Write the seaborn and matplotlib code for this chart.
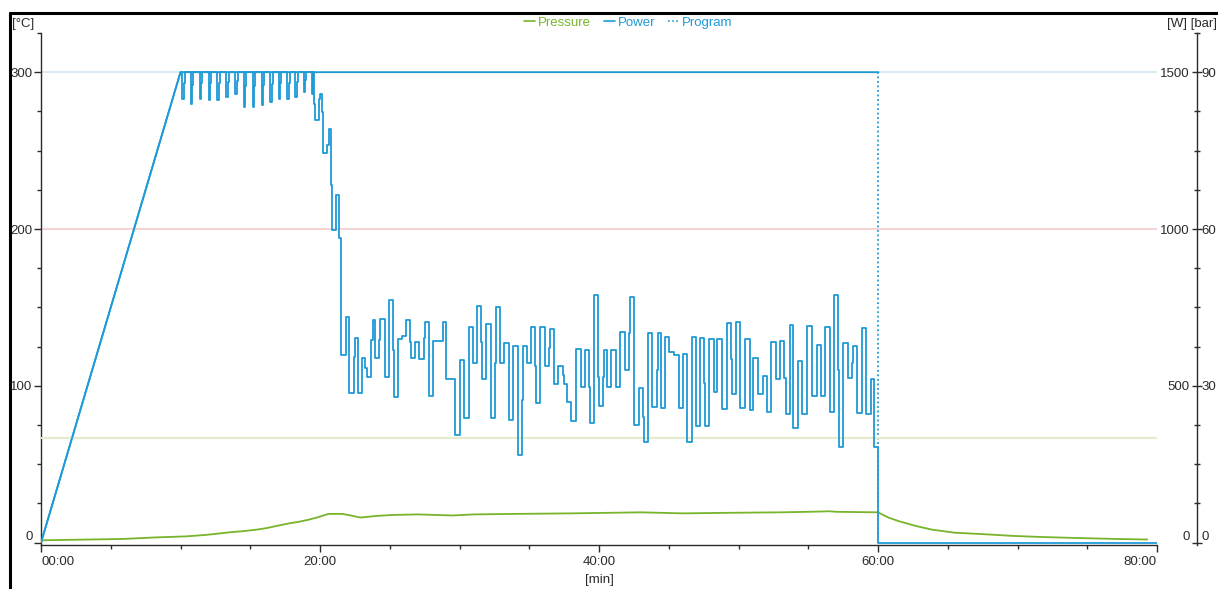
import matplotlib
matplotlib.use("Agg")
import matplotlib.pyplot as plt
from matplotlib.lines import Line2D
from matplotlib.ticker import MultipleLocator, FixedLocator, FuncFormatter
import seaborn as sns

sns.set_theme(style="white")
plt.rcParams['font.family'] = ['Liberation Sans', 'DejaVu Sans']
plt.rcParams['font.size'] = 9.5

# power ramp at the start [min], [W]
ramp_t = [0.0, 10.0]
ramp_w = [0, 1500]

# power, step values after the ramp [min], [W]
power_t = [10.00,
           10.12, 10.22, 10.30, 10.72, 10.82, 10.90, 11.39, 11.49, 11.57,
           12.03, 12.13, 12.21, 12.63, 12.73, 12.81, 13.28, 13.38, 13.46,
           13.94, 14.04, 14.12, 14.54, 14.64, 14.72, 15.19, 15.29, 15.37,
           15.81, 15.91, 15.99, 16.45, 16.55, 16.63, 17.05, 17.15, 17.23,
           17.65, 17.75, 17.83, 18.24, 18.34, 18.42, 18.84, 18.94, 19.02,
           19.44, 19.50,
           19.56, 19.63, 19.91, 19.98, 20.15, 20.20, 20.51, 20.63, 20.80, 20.87, 21.18,
           21.35, 21.47, 21.54, 21.87, 22.06, 22.42, 22.49, 22.73, 23.02, 23.26, 23.38,
           23.69, 23.78, 23.97, 24.26, 24.33, 24.64, 24.93, 25.24, 25.33, 25.60, 25.88,
           26.17, 26.48, 26.55, 26.84, 27.12, 27.44, 27.51, 27.79, 28.10, 28.80, 29.06,
           29.70, 30.06, 30.35, 30.71, 30.99, 31.28, 31.57, 31.61, 31.92, 32.23, 32.57,
           32.62, 32.93, 33.21, 33.57, 33.86, 34.17, 34.48, 34.53, 34.84, 35.12, 35.43,
           35.48, 35.79, 36.10, 36.39, 36.51, 36.77, 37.06, 37.39, 37.46, 37.70, 38.01,
           38.37, 38.68, 38.97, 39.30, 39.37, 39.66, 39.92, 39.97, 40.26, 40.33, 40.59,
           40.88, 41.21, 41.52, 41.83, 42.17, 42.24, 42.52, 42.84, 43.12, 43.19, 43.50,
           43.79, 44.15, 44.20, 44.46, 44.75, 45.03, 45.41, 45.70, 45.99, 46.30, 46.66,
           46.94, 47.25, 47.56, 47.61, 47.90, 48.21, 48.49, 48.85, 49.16, 49.47, 49.52,
           49.83, 50.14, 50.48, 50.79, 51.07, 51.38, 51.74, 52.03, 52.34, 52.70, 52.98,
           53.29, 53.39, 53.70, 53.94, 54.25, 54.58, 54.94, 55.25, 55.30, 55.61, 55.90,
           56.21, 56.56, 56.88, 57.11, 57.21, 57.52, 57.83, 58.16, 58.24, 58.52, 58.83,
           59.12, 59.48, 59.74, 60.03, 80.00]
power_w = [1500,
           1416, 1466, 1500, 1400, 1460, 1500, 1416, 1466, 1500,
           1411, 1464, 1500, 1411, 1464, 1500, 1422, 1469, 1500,
           1432, 1473, 1500, 1390, 1456, 1500, 1390, 1456, 1500,
           1395, 1458, 1500, 1406, 1462, 1500, 1416, 1466, 1500,
           1416, 1466, 1500, 1422, 1469, 1500, 1438, 1475, 1500,
           1432, 1500,
           1400, 1347, 1416, 1432, 1374, 1241, 1268, 1318, 1140, 997, 1108,
           970, 716, 599, 718, 477, 593, 654, 477, 590, 558, 527,
           647, 710, 590, 647, 713, 527, 774, 615, 463, 650, 659,
           710, 641, 588, 641, 586, 652, 705, 466, 644, 705, 521,
           344, 583, 399, 686, 572, 755, 641, 522, 696, 399, 572,
           751, 574, 638, 392, 627, 278, 455, 627, 572, 687, 564,
           445, 687, 564, 620, 682, 506, 564, 535, 505, 450, 389,
           618, 495, 615, 496, 381, 789, 528, 436, 528, 615, 496,
           615, 496, 671, 551, 668, 782, 376, 492, 402, 320, 668,
           431, 551, 668, 429, 657, 607, 597, 429, 602, 320, 657,
           373, 652, 508, 371, 649, 479, 649, 426, 700, 586, 475,
           703, 429, 649, 424, 588, 475, 530, 418, 641, 522, 644,
           525, 410, 694, 365, 580, 410, 692, 583, 469, 631, 466,
           686, 415, 790, 551, 304, 638, 524, 572, 627, 413, 684,
           410, 521, 304, 0, 0]

# pressure [min], [bar]
pressure_t = [0.0, 5.8, 8.2, 10.4, 11.9, 13.6, 14.5, 15.5, 16.2, 16.9, 17.8, 18.5, 19.2,
              19.9, 20.6, 21.6, 22.2, 22.9, 24.0, 25.2, 27.0, 29.5, 31.0, 34.0, 38.0,
              43.0, 46.0, 49.0, 53.0, 55.0, 56.5, 57.0, 60.0, 60.75, 61.5, 62.7, 63.85,
              65.5, 67.7, 69.6, 71.5, 74.1, 77.2, 79.3]
pressure_bar = [0.45, 0.7, 1.0, 1.2, 1.5, 2.0, 2.2, 2.5, 2.8, 3.2, 3.7, 4.0, 4.4,
                4.9, 5.5, 5.5, 5.2, 4.8, 5.1, 5.3, 5.4, 5.2, 5.4, 5.5, 5.6,
                5.8, 5.6, 5.7, 5.8, 5.9, 6.0, 5.9, 5.8, 4.8, 4.1, 3.2, 2.5,
                1.9, 1.6, 1.3, 1.1, 0.9, 0.7, 0.6]

# temperature program [min], [°C]
program_t = [0.0, 10.0, 60.03]
program_c = [0, 300, 300]
program_end_t = [60.03, 60.03]
program_end_c = [300, 0]

# limit lines
temp_limits = [300, 200]
pressure_limit = 20

x_ticks = [0, 20, 40, 60, 80]
c_ticks = [0, 100, 200, 300]
w_ticks = [0, 500, 1000, 1500]
bar_ticks = [0, 30, 60, 90]

blue = '#1e9ad6'
green = '#78b42c'
dark = '#2b2b2b'

fig = plt.figure(figsize=(12.18, 5.89), dpi=100)
ax = fig.add_axes([41 / 1218, 44 / 589, (1157 - 41) / 1218, 512 / 589])
axb = ax.twinx()
axw = ax.twinx()

ax.axhline(temp_limits[0], color='#cde7f6', lw=1.2, zorder=1)
ax.axhline(temp_limits[1], color='#f6cccc', lw=1.2, zorder=1)
axb.axhline(pressure_limit, color='#e4ebcf', lw=1.5, zorder=1)

sns.lineplot(x=program_t, y=program_c, ax=ax, color=blue, lw=1.3, sort=False, estimator=None)
sns.lineplot(x=program_end_t, y=program_end_c, ax=ax, color=blue, lw=1.3, ls=(0, (1, 1.5)),
             sort=False, estimator=None)
sns.lineplot(x=pressure_t, y=pressure_bar, ax=axb, color=green, lw=1.3, sort=False,
             estimator=None)
sns.lineplot(x=ramp_t, y=ramp_w, ax=axw, color=blue, lw=1.3, sort=False, estimator=None)
sns.lineplot(x=power_t, y=power_w, ax=axw, color=blue, lw=1.3, drawstyle='steps-post',
             sort=False, estimator=None)

ax.set_xlim(0, 80)
ax.set_ylim(-1.5, 325)
axw.set_ylim(-7.5, 1625)
axb.set_ylim(-0.45, 97.5)

for a in (ax, axb, axw):
    a.set_xlabel('')
    a.set_ylabel('')
    for s in a.spines.values():
        s.set_visible(False)
        s.set_color(dark)
        s.set_linewidth(1)

ax.spines['left'].set_visible(True)
ax.spines['bottom'].set_visible(True)
axw.spines['right'].set_visible(True)
axw.spines['right'].set_position(('outward', 29))
axb.spines['right'].set_position(('outward', 29))

# x axis
ax.xaxis.set_major_locator(FixedLocator(x_ticks))
ax.xaxis.set_minor_locator(MultipleLocator(5))
ax.xaxis.set_major_formatter(FuncFormatter(lambda v, p: f"{int(round(v)):02d}:00"))
ax.tick_params(axis='x', which='major', direction='out', length=5, width=1, color=dark,
               labelsize=9.5, labelcolor=dark, pad=3, bottom=True)
ax.tick_params(axis='x', which='minor', direction='out', length=3, width=1, color=dark,
               bottom=True)

# left axis
ax.yaxis.set_major_locator(FixedLocator(c_ticks))
ax.yaxis.set_minor_locator(MultipleLocator(25))
ax.tick_params(axis='y', which='major', direction='out', length=5, width=1, color=dark,
               labelsize=9.5, labelcolor=dark, pad=1, left=True)
ax.tick_params(axis='y', which='minor', direction='out', length=3, width=1, color=dark,
               left=True)

# right axis, power labels on the left of the spine
axw.yaxis.set_major_locator(FixedLocator(w_ticks))
axw.yaxis.set_minor_locator(MultipleLocator(125))
axw.tick_params(axis='y', which='major', direction='inout', length=7, width=1, color=dark,
                labelsize=9.5, labelcolor=dark, pad=-9, right=True)
axw.tick_params(axis='y', which='minor', direction='inout', length=5, width=1, color=dark,
                right=True)
axw.tick_params(axis='x', which='both', bottom=False, top=False, labelbottom=False)

# right axis, pressure labels on the right of the spine
axb.yaxis.set_major_locator(FixedLocator(bar_ticks))
axb.yaxis.set_minor_locator(FixedLocator([]))
axb.tick_params(axis='y', which='major', length=0, labelsize=9.5, labelcolor=dark, pad=3,
                right=True)
axb.tick_params(axis='x', which='both', bottom=False, top=False, labelbottom=False)

ax.set_xlabel('[min]', fontsize=9.5, color=dark, labelpad=4)

fig.text(12 / 1218, 1 - 24 / 589, '[°C]', ha='left', va='center', fontsize=9.5, color=dark)
fig.text(1217 / 1218, 1 - 24 / 589, '[W] [bar]', ha='right', va='center', fontsize=9.5,
         color=dark)

handles = [Line2D([], [], color=green, lw=1.2),
           Line2D([], [], color=blue, lw=1.2),
           Line2D([], [], color=blue, lw=1.2, ls=(0, (1, 1.5)))]
fig.legend(handles, ['Pressure', 'Power', 'Program'], loc='center',
           bbox_to_anchor=(628 / 1218, 1 - 23 / 589), ncol=3, frameon=False, fontsize=9.5,
           handlelength=0.9, handletextpad=0.15, columnspacing=1.0, labelcolor='linecolor',
           borderpad=0, borderaxespad=0)

# window frame
fig.add_artist(Line2D([9.5 / 1218, 1], [1 - 13 / 589, 1 - 13 / 589], transform=fig.transFigure,
                      color='black', lw=2.2))
fig.add_artist(Line2D([9.5 / 1218, 9.5 / 1218], [0, 1 - 13 / 589], transform=fig.transFigure,
                      color='black', lw=2.2))

# first draw so the tick labels exist, then fix their alignment
fig.canvas.draw()
plt.setp(axw.get_yticklabels(), ha='right')
for a in (ax, axw, axb):
    a.get_yticklabels()[0].set_va('bottom')
xl = ax.get_xticklabels()
xl[0].set_ha('left')
xl[-1].set_ha('right')

fig.savefig('out.png', dpi=100)
